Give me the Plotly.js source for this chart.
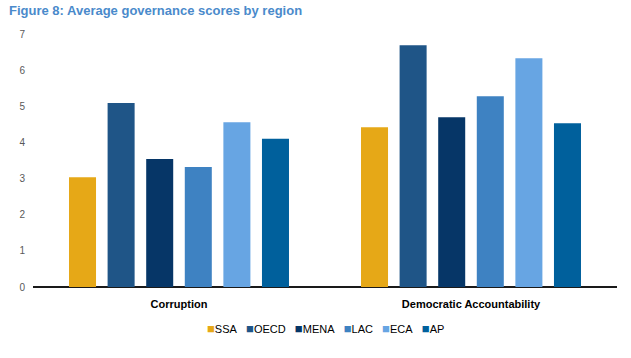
<!DOCTYPE html>
<html>
<head>
<meta charset="utf-8">
<script src="https://cdn.plot.ly/plotly-3.0.1.min.js"></script>
<style>html,body{margin:0;padding:0;background:#fff;}#chart{width:631px;height:358px;}</style>
</head>
<body>
<div id="chart"></div>
<script>
const categories = ["Corruption", "Democratic Accountability"];
const regions = ["SSA", "OECD", "MENA", "LAC", "ECA", "AP"];
const SSA = [3.04, 4.42];
const OECD = [5.09, 6.69];
const MENA = [3.54, 4.70];
const LAC = [3.32, 5.28];
const ECA = [4.56, 6.33];
const AP = [4.10, 4.53];
const seriesValues = [SSA, OECD, MENA, LAC, ECA, AP];
const yTicks = [0, 1, 2, 3, 4, 5, 6, 7];

const colors = ["#E6A817", "#1F5587", "#063667", "#3E82C2", "#67A5E3", "#00609C"];
const narrow = "Liberation Sans Narrow, Arial Narrow, sans-serif";

const traces = regions.map((r, i) => ({
  type: "bar",
  name: r,
  x: categories,
  y: seriesValues[i],
  marker: {color: colors[i], line: {width: 0}},
  hoverinfo: "skip"
}));

// compact legend built from the region names and colours
const legendText = regions.map((r, i) =>
  `<span style="color:${colors[i]};font-size:13px">■</span>${r}`).join("&nbsp;&nbsp;&nbsp;");

const layout = {
  width: 631, height: 358,
  margin: {l: 33, r: 14, t: 34, b: 71},
  paper_bgcolor: "#fff", plot_bgcolor: "#fff",
  barmode: "group",
  bargap: 0.207,
  bargroupgap: 0.30,
  showlegend: false,
  title: {
    text: "Figure 8: Average governance scores by region",
    font: {family: narrow, size: 13, color: "#4A8ACB", weight: "bold"},
    x: 9 / 631, xref: "container", xanchor: "left",
    y: 1 - 10 / 358, yref: "container", yanchor: "middle", pad: {l: 0, t: 0, b: 0, r: 0}
  },
  xaxis: {
    showgrid: false, zeroline: false, showline: false, ticks: "", automargin: false,
    tickfont: {family: narrow, size: 11, color: "#000", weight: "bold"},
    ticklabelstandoff: 9
  },
  yaxis: {
    range: [0, 7], tickvals: yTicks, ticktext: yTicks.map(String), automargin: false,
    showgrid: false, zeroline: true, zerolinecolor: "#1a1a1a", zerolinewidth: 2,
    showline: false, ticks: "",
    tickfont: {family: "Liberation Sans, Arial, sans-serif", size: 10, color: "#595959"},
    ticklabelstandoff: 7
  },
  annotations: [{
    text: legendText, showarrow: false,
    xref: "paper", yref: "paper", x: 0.5, xanchor: "center",
    y: -41 / 253, yanchor: "middle",
    font: {family: narrow, size: 11, color: "#000"}
  }]
};

Plotly.newPlot("chart", traces, layout, {displayModeBar: false, staticPlot: true});
</script>
</body>
</html>
